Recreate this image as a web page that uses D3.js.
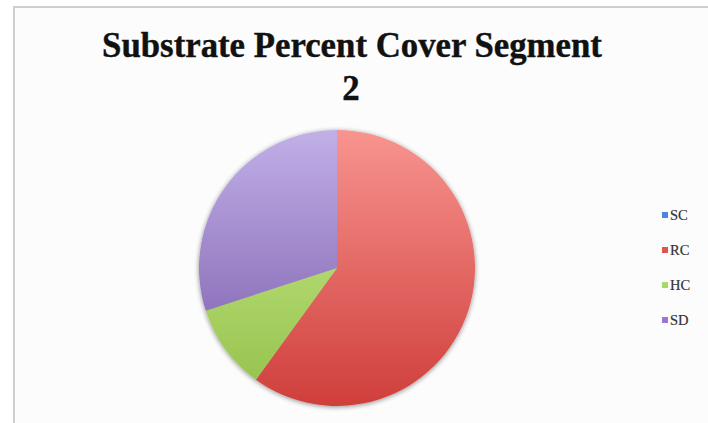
<!DOCTYPE html>
<html><head><meta charset="utf-8">
<script src="https://cdn.jsdelivr.net/npm/d3@7"></script>
<style>body{margin:0;background:#fff}svg{display:block}</style>
</head><body>
<svg id="c" width="708" height="423"></svg>
<script>
const categories = ["SC", "RC", "HC", "SD"];
const values = [0, 60, 10, 30];
const titleLines = ["Substrate Percent Cover Segment", "2"];
const topColors = ["#7fa8e6", "#f8948f", "#cfee90", "#c1b0e8"];
const bottomColors = ["#3f6fc0", "#cf3e3b", "#92c04a", "#7655a6"];
const legendColors = ["#4a86e0", "#e05452", "#a6d86a", "#9a77d0"];

const svg = d3.select("#c");
const W = 708, H = 423;
svg.append("rect").attr("width", W).attr("height", H).attr("fill", "#ffffff");
svg.append("rect").attr("x", 14).attr("y", 7).attr("width", W).attr("height", H)
  .attr("fill", "#fcfcfc").attr("stroke", "#cfcfcf").attr("stroke-width", 2);

const cx = 337, cy = 268, r = 138;
const defs = svg.append("defs");
categories.forEach((c, i) => {
  const g = defs.append("linearGradient").attr("id", "g" + i)
    .attr("gradientUnits", "userSpaceOnUse")
    .attr("x1", 0).attr("y1", -r).attr("x2", 0).attr("y2", r);
  g.append("stop").attr("offset", "0%").attr("stop-color", topColors[i]);
  g.append("stop").attr("offset", "100%").attr("stop-color", bottomColors[i]);
});
const f = defs.append("filter").attr("id", "sh").attr("x", "-20%").attr("y", "-20%").attr("width", "140%").attr("height", "140%");
f.append("feGaussianBlur").attr("in", "SourceAlpha").attr("stdDeviation", 2.5).attr("result", "b");
f.append("feOffset").attr("in", "b").attr("dx", 0).attr("dy", 1).attr("result", "o");
f.append("feComponentTransfer").attr("in", "o").attr("result", "o2")
  .append("feFuncA").attr("type", "linear").attr("slope", 0.45);
const m = f.append("feMerge");
m.append("feMergeNode").attr("in", "o2");
m.append("feMergeNode").attr("in", "SourceGraphic");

const data = categories.map((c, i) => ({c, v: values[i], i}));
const pie = d3.pie().sort(null).value(d => d.v);
const arc = d3.arc().innerRadius(0).outerRadius(r);
const pg = svg.append("g").attr("transform", `translate(${cx},${cy})`).attr("filter", "url(#sh)");
pg.selectAll("path").data(pie(data).filter(d => d.data.v > 0)).join("path")
  .attr("d", arc)
  .attr("fill", d => `url(#g${d.data.i})`);

// title
const font = "'Liberation Serif', 'DejaVu Serif', serif";
const t1 = svg.append("text").attr("x", 352).attr("y", 57).attr("text-anchor", "middle")
  .attr("font-family", font).attr("font-weight", "bold").attr("font-size", 34)
  .attr("fill", "#111").attr("stroke", "#111").attr("stroke-width", 0.4).text(titleLines[0]);
const len = t1.node().getComputedTextLength();
const fs = 34 * 500 / len;
t1.attr("font-size", fs);
svg.append("text").attr("x", 351).attr("y", 100).attr("text-anchor", "middle")
  .attr("font-family", font).attr("font-weight", "bold").attr("font-size", fs)
  .attr("fill", "#111").attr("stroke", "#111").attr("stroke-width", 0.4).text(titleLines[1]);

// legend
const ly = d3.scalePoint().domain(categories).range([215, 320]);
const lg = svg.append("g");
categories.forEach((c, i) => {
  lg.append("rect").attr("x", 662).attr("y", ly(c) - 3).attr("width", 6).attr("height", 6)
    .attr("fill", legendColors[i]);
  lg.append("text").attr("x", 670).attr("y", ly(c) + 5)
    .attr("font-family", font).attr("font-size", 14.5).attr("fill", "#333")
    .attr("stroke", "#333").attr("stroke-width", 0.2).text(c);
});
</script>
</body></html>
